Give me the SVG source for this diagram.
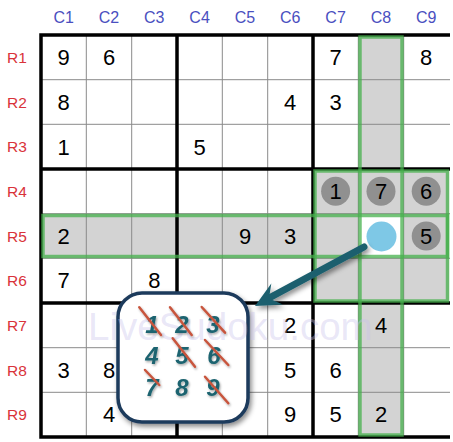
<svg xmlns="http://www.w3.org/2000/svg" width="453" height="442" viewBox="0 0 453 442">
<defs>
<style>
.hdr{font-family:"Liberation Sans",Arial,sans-serif;text-anchor:middle}
.col{fill:#4a4fc0;font-size:16px}
.row{fill:#d9333a;font-size:15.5px}
.d{font-family:"Liberation Sans",Arial,sans-serif;font-size:22px;text-anchor:middle;fill:#000}
.thin{stroke:#8a8a8a;stroke-width:1}
.thick{stroke:#000;stroke-width:3.5}
.hl{fill:none;stroke:#45b04c;stroke-opacity:0.75;stroke-width:3.5}
.gc{fill:#909090}
.pd{font-family:"Liberation Sans",Arial,sans-serif;font-size:24px;font-weight:bold;font-style:italic;text-anchor:middle;fill:#1d6470}
.st{stroke:#c8553d;stroke-width:2.5;stroke-linecap:round}
</style>
<filter id="sh" x="-20%" y="-20%" width="140%" height="140%">
<feDropShadow dx="2" dy="3" stdDeviation="2.5" flood-color="#000" flood-opacity="0.45"/>
</filter>
<filter id="sh2" x="-10%" y="-10%" width="120%" height="120%">
<feDropShadow dx="1" dy="1.5" stdDeviation="1" flood-color="#000" flood-opacity="0.35"/>
</filter>
</defs>
<rect width="453" height="442" fill="#fff"/>
<g id="headers">
<text class="hdr col" x="63.7" y="23">C1</text>
<text class="hdr col" x="109" y="23">C2</text>
<text class="hdr col" x="154.3" y="23">C3</text>
<text class="hdr col" x="199.6" y="23">C4</text>
<text class="hdr col" x="245" y="23">C5</text>
<text class="hdr col" x="290.2" y="23">C6</text>
<text class="hdr col" x="335.6" y="23">C7</text>
<text class="hdr col" x="381" y="23">C8</text>
<text class="hdr col" x="426.2" y="23">C9</text>
<text class="hdr row" x="17" y="62.8">R1</text>
<text class="hdr row" x="17" y="107.5">R2</text>
<text class="hdr row" x="17" y="152.2">R3</text>
<text class="hdr row" x="17" y="196.8">R4</text>
<text class="hdr row" x="17" y="241.5">R5</text>
<text class="hdr row" x="17" y="286.2">R6</text>
<text class="hdr row" x="17" y="330.8">R7</text>
<text class="hdr row" x="17" y="375.5">R8</text>
<text class="hdr row" x="17" y="420.2">R9</text>
</g>
<g id="highlight-fill" fill="#d3d3d3">
<rect x="358.3" y="35" width="45.3" height="402"/>
<rect x="41" y="213.7" width="408" height="44.6"/>
<rect x="313" y="169" width="136" height="134"/>
<rect x="358.3" y="213.7" width="45.3" height="44.6" fill="#fff"/>
</g>
<g id="grid">
<g class="thin">
<line x1="86.3" y1="35" x2="86.3" y2="437"/>
<line x1="131.7" y1="35" x2="131.7" y2="437"/>
<line x1="222.3" y1="35" x2="222.3" y2="437"/>
<line x1="267.7" y1="35" x2="267.7" y2="437"/>
<line x1="358.3" y1="35" x2="358.3" y2="437"/>
<line x1="403.7" y1="35" x2="403.7" y2="437"/>
<line x1="41" y1="79.7" x2="450" y2="79.7"/>
<line x1="41" y1="124.3" x2="450" y2="124.3"/>
<line x1="41" y1="213.7" x2="450" y2="213.7"/>
<line x1="41" y1="258.3" x2="450" y2="258.3"/>
<line x1="41" y1="347.7" x2="450" y2="347.7"/>
<line x1="41" y1="392.3" x2="450" y2="392.3"/>
</g>
<g class="thick">
<line x1="177" y1="35" x2="177" y2="437"/>
<line x1="313" y1="35" x2="313" y2="437"/>
<line x1="41" y1="169" x2="450" y2="169"/>
<line x1="41" y1="303" x2="450" y2="303"/>
<polyline points="450,35 41,35 41,437 450,437" fill="none"/>
</g>
</g>
<g id="highlight-outline">
<rect class="hl" x="360" y="37" width="42" height="398"/>
<rect class="hl" x="43" y="215.5" width="404.5" height="41"/>
<rect class="hl" x="315" y="171" width="132.5" height="130"/>
</g>
<g id="digits" class="d">
<text x="63.7" y="65">9</text><text x="109" y="65">6</text><text x="335.6" y="65">7</text><text x="426.2" y="65">8</text>
<text x="63.7" y="110">8</text><text x="290.2" y="110">4</text><text x="335.6" y="110">3</text>
<text x="63.7" y="155">1</text><text x="199.6" y="155">5</text>
<text x="63.7" y="244">2</text><text x="245" y="244">9</text><text x="290.2" y="244">3</text>
<text x="63.7" y="288">7</text><text x="154.3" y="288">8</text>
<text x="290.2" y="333">2</text><text x="381" y="333">4</text>
<text x="63.7" y="378">3</text><text x="109" y="378">8</text><text x="290.2" y="378">5</text><text x="335.6" y="378">6</text>
<text x="109" y="422">4</text><text x="290.2" y="422">9</text><text x="335.6" y="422">5</text><text x="381" y="422">2</text>
</g>
<g id="candidates">
<circle class="gc" cx="335.6" cy="191.3" r="14.5"/>
<circle class="gc" cx="381" cy="191.3" r="14.5"/>
<circle class="gc" cx="426.2" cy="191.3" r="14.5"/>
<circle class="gc" cx="426.2" cy="236" r="14.5"/>
<text class="d" x="335.6" y="199">1</text>
<text class="d" x="381" y="199">7</text>
<text class="d" x="426.2" y="199">6</text>
<text class="d" x="426.2" y="244">5</text>
<circle cx="381.5" cy="236.5" r="15" fill="#7ec8e6"/>
</g>
<g id="connectors" filter="url(#sh)">
<line x1="364" y1="247" x2="270" y2="297.5" stroke="#1b5f6e" stroke-width="7" stroke-linecap="round"/>
<polygon points="255,306 271.3,283.6 269,298.4 282.7,304.6" fill="#1b5f6e"/>
</g>
<g id="popup">
<rect x="118" y="293" width="130" height="129" rx="24" fill="#fff" stroke="#1e3a5c" stroke-width="3.5" filter="url(#sh)"/>
</g>
<text x="88" y="340" font-family="Liberation Sans,Arial,sans-serif" font-size="38.5" fill="#c9c2ec" fill-opacity="0.4">LiveSudoku.com</text>
<g id="popup-digits" filter="url(#sh2)">
<text class="pd" x="152" y="333">1</text>
<text class="pd" x="182" y="333">2</text>
<text class="pd" x="213" y="333">3</text>
<text class="pd" x="152" y="364">4</text>
<text class="pd" x="182" y="364">5</text>
<text class="pd" x="214" y="364">6</text>
<text class="pd" x="152" y="396">7</text>
<text class="pd" x="182" y="396">8</text>
<text class="pd" x="213" y="396">9</text>
<line class="st" x1="139.3" y1="307.3" x2="161" y2="335"/>
<line class="st" x1="170" y1="307.3" x2="191.7" y2="335"/>
<line class="st" x1="201.7" y1="307" x2="225" y2="332.7"/>
<line class="st" x1="172.7" y1="338.3" x2="195" y2="366.7"/>
<line class="st" x1="205" y1="340" x2="228.3" y2="365"/>
<line class="st" x1="145" y1="370" x2="159.3" y2="385"/>
<line class="st" x1="205" y1="376.7" x2="228.3" y2="403.3"/>
</g>
</svg>
